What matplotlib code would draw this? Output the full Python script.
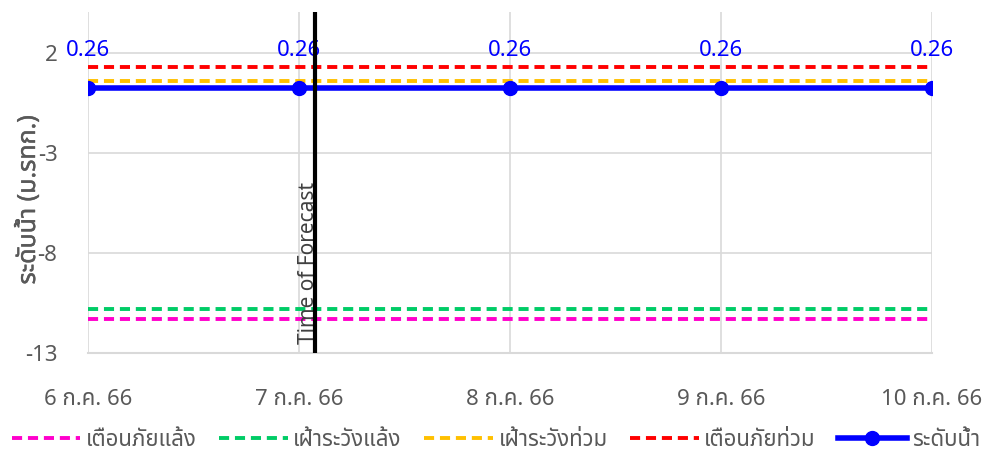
import matplotlib
matplotlib.use('Agg')
import matplotlib.pyplot as plt
import matplotlib.patheffects as pe
from matplotlib import font_manager
from fontTools.ttLib import TTFont

# หา font ที่มีอักษรไทย
def find_thai_font():
    preferred = ['Noto Sans Thai', 'Noto Sans Thai UI', 'Noto Sans Thai Looped',
                 'Loma', 'Garuda', 'Waree', 'Sarabun', 'Kinnari', 'Norasi', 'Umpush']
    found = []
    for f in font_manager.fontManager.ttflist:
        try:
            tt = TTFont(f.fname, fontNumber=0, lazy=True)
            cmap = tt.getBestCmap()
            if cmap and 0x0E01 in cmap and 0x0E49 in cmap:
                found.append(f.name)
        except Exception:
            pass
    for p in preferred:
        if p in found:
            return p
    return found[0] if found else None

thai = find_thai_font()
fams = ([thai] if thai else []) + ['DejaVu Sans']
plt.rcParams['font.family'] = fams

# ข้อมูล
dates = ['6 ก.ค. 66', '7 ก.ค. 66', '8 ก.ค. 66', '9 ก.ค. 66', '10 ก.ค. 66']
water_level = [0.26, 0.26, 0.26, 0.26, 0.26]
drought_warning = [-11.3] * 5
drought_watch = [-10.8] * 5
flood_watch = [0.6] * 5
flood_warning = [1.3] * 5
forecast_time = 1.076  # วันที่ 7 ก.ค. 66 ประมาณ 01:50 น.

x = list(range(len(dates)))

fig = plt.figure(figsize=(9.92, 4.57), dpi=100)
ax = fig.add_axes([88 / 992, 1 - 353 / 457, (932 - 88) / 992, (353 - 12) / 457])

dash = (2.6, 1.5)
ax.plot(x, drought_warning, '--', color='#FF00CC', lw=2.8, dashes=dash, label='เตือนภัยแล้ง')
ax.plot(x, drought_watch, '--', color='#00CC66', lw=2.8, dashes=dash, label='เฝ้าระวังแล้ง')
ax.plot(x, flood_watch, '--', color='#FFC000', lw=2.8, dashes=dash, label='เฝ้าระวังท่วม')
ax.plot(x, flood_warning, '--', color='#FF0000', lw=2.8, dashes=dash, label='เตือนภัยท่วม')
ax.plot(x, water_level, '-o', color='#0000FF', lw=4, ms=10, label='ระดับน้ำ', zorder=5)

for xi, v in zip(x, water_level):
    ax.annotate(f'{v:.2f}', (xi, v), xytext=(0, 19), textcoords='offset points',
                ha='center', va='bottom', color='#0000FF', fontsize=16)

# เส้นเวลาพยากรณ์
ax.axvline(forecast_time, color='black', lw=3, zorder=6)
ax.text(forecast_time - 0.03, -12.55, 'Time of Forecast', rotation=90, ha='center', va='bottom',
        fontsize=15, color='#404040', zorder=5)

ax.set_xlim(0, 4)
ax.set_ylim(-13, 4.05)
ax.set_yticks([-13, -8, -3, 2])
ax.set_xticks(x)
ax.set_xticklabels(dates)
ax.tick_params(axis='x', length=0, pad=26, labelsize=16, labelcolor='#595959')
ax.tick_params(axis='y', length=0, pad=22, labelsize=16, labelcolor='#595959')
ax.grid(True, color='#D9D9D9', lw=1.2)
ax.set_axisbelow(True)
for s in ['top', 'right', 'left']:
    ax.spines[s].set_visible(False)
ax.spines['bottom'].set_color('#D9D9D9')
ax.spines['bottom'].set_linewidth(1.5)

ax.set_ylabel('ระดับน้ำ (ม.รทก.)', fontsize=18, color='#595959',
              path_effects=[pe.withStroke(linewidth=0.3, foreground='#595959')])
ax.yaxis.set_label_coords(-47 / 844, 153 / 341)

fig.legend(loc='center', bbox_to_anchor=(0.5, 1 - 440 / 457), ncol=5, frameon=False,
           fontsize=16, handlelength=3.1, handletextpad=0.25, columnspacing=1.0, labelcolor='#595959')

fig.savefig('out.png', dpi=100)
